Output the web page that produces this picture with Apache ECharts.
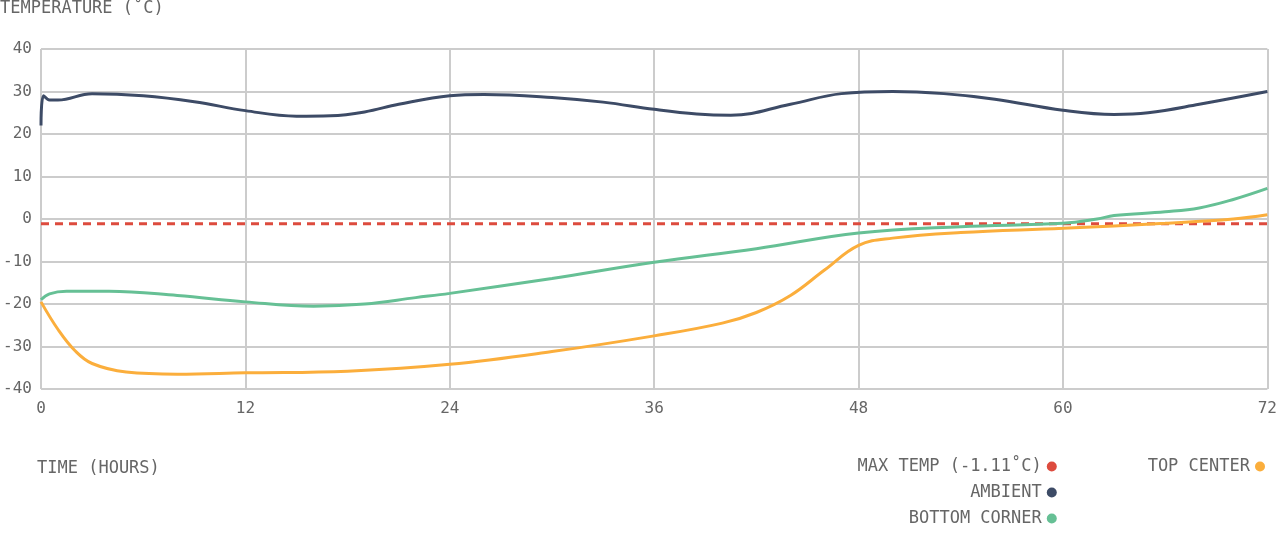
<!DOCTYPE html>
<html><head><meta charset="utf-8">
<script src="https://cdn.jsdelivr.net/npm/echarts@6/dist/echarts.min.js"></script>
<style>html,body{margin:0;padding:0;background:#fff}#c{width:1280px;height:547px}</style>
</head><body><div id="c"></div>
<script>
const maxTemp = -1.11;
const ambient = [[0,22],[0.15,29],[0.5,28],[1,28],[3,29.5],[6,29],[9,27.6],[12,25.5],[15,24.2],[17,24.3],[19,25.2],[21,27],[24,29],[26,29.3],[30,28.6],[33,27.5],[36,25.8],[38.5,24.7],[40.5,24.4],[44,27],[47,29.5],[50,30],[53,29.5],[56,28.2],[60,25.6],[63,24.6],[65,25],[68,27],[72,30]];
const bottom = [[0,-19],[0.5,-17.6],[1.5,-17],[4,-17],[8,-18],[12,-19.5],[16,-20.5],[19,-20],[22,-18.5],[24,-17.5],[30,-14],[36,-10.2],[42,-7],[48,-3.3],[54,-1.8],[60,-1],[62,0],[63,0.8],[66,1.7],[68,2.6],[70,4.6],[72,7.2]];
const top_ = [[0,-19.5],[1,-26],[2,-31],[3,-34],[5,-36],[8,-36.5],[12,-36.2],[18,-35.8],[24,-34.2],[30,-31.2],[36,-27.5],[40,-24.5],[42,-22],[44,-18],[46,-12],[48,-6.2],[50,-4.5],[54,-3.2],[60,-2.2],[66,-1],[70,0],[72,1]];
const F = 'DejaVu Sans Mono';
const c = echarts.init(document.getElementById('c'));
c.setOption({
  animation:false,
  textStyle:{fontFamily:F},
  grid:{left:41,right:8,top:49,bottom:158},
  xAxis:{type:'value',min:0,max:72,interval:12,
    axisLine:{show:false},axisTick:{show:false},
    splitLine:{lineStyle:{color:'#ccc',width:2}},
    axisLabel:{color:'#666',fontSize:16,margin:12,fontFamily:F}},
  yAxis:{type:'value',min:-40,max:40,interval:10,
    axisLine:{show:false},axisTick:{show:false},
    splitLine:{lineStyle:{color:'#ccc',width:2}},
    axisLabel:{color:'#666',fontSize:16,margin:9,fontFamily:F}},
  legend:{orient:'vertical',right:10,top:453,align:'right',itemGap:9,icon:'circle',itemWidth:10,itemHeight:16,
    textStyle:{color:'#666',fontSize:17,fontFamily:F},
    data:['MAX TEMP (-1.11˚C)','AMBIENT','BOTTOM CORNER','TOP CENTER']},
  graphic:[
    {type:'text',left:0,top:0,style:{text:'TEMPERATURE (˚C)',fill:'#666',font:'17px '+F}},
    {type:'text',left:37,top:460,style:{text:'TIME (HOURS)',fill:'#666',font:'17px '+F}}
  ],
  series:[
    {name:'MAX TEMP (-1.11˚C)',type:'line',data:[[0,maxTemp],[72,maxTemp]],symbol:'none',itemStyle:{color:'#dd4b3e'},lineStyle:{color:'#dd4b3e',width:3,type:[8,6]}},
    {name:'AMBIENT',type:'line',smooth:0.4,data:ambient,symbol:'none',itemStyle:{color:'#3d4b66'},lineStyle:{width:3}},
    {name:'BOTTOM CORNER',type:'line',smooth:0.4,data:bottom,symbol:'none',itemStyle:{color:'#66c095'},lineStyle:{width:3}},
    {name:'TOP CENTER',type:'line',smooth:0.4,data:top_,symbol:'none',itemStyle:{color:'#fbae3c'},lineStyle:{width:3}}
  ]
});
</script></body></html>
